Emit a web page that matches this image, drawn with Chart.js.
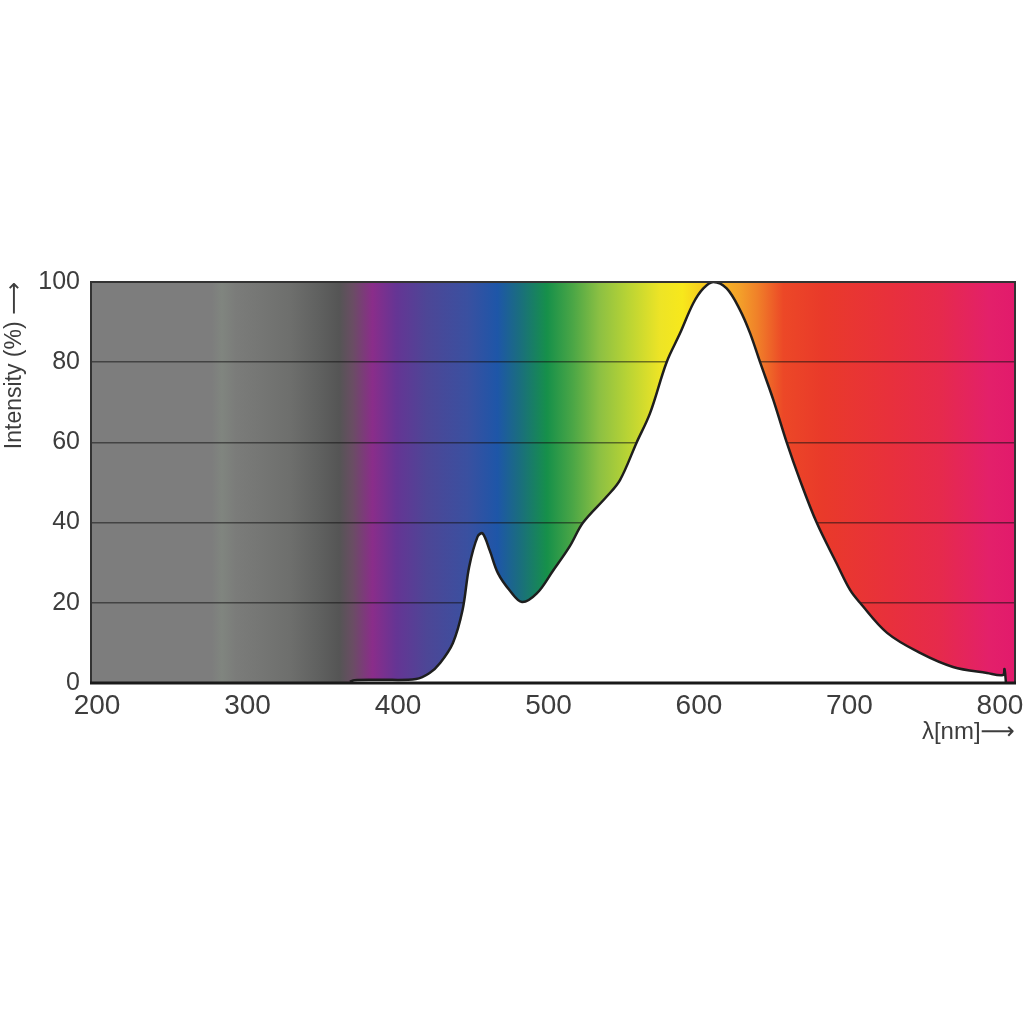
<!DOCTYPE html>
<html>
<head>
<meta charset="utf-8">
<script src="https://cdn.jsdelivr.net/npm/chart.js@4"></script>
<style>
  body { margin: 0; background: #fff; }
  #wrap { width: 1024px; height: 1024px; }
</style>
</head>
<body>
<div id="wrap"><canvas id="spectrumChart"></canvas></div>
<script>
// wavelength (nm) and relative intensity (%)
const wavelengths = [368, 371, 388, 412, 421, 428, 436.5, 442.9, 447.3, 452.9, 456.2, 461, 466.4, 474.4, 482.4,
  492.4, 503, 514, 523, 538.7, 547.5, 558.6, 567.5, 578.5, 587.4, 596.2, 602.9, 609.5,
  618.4, 627.3, 634, 640.6, 649.4, 658.3, 667.1, 678.2, 691.5, 700.4, 707, 725, 746.9, 768.8, 791.4,
  802, 803, 804];
const intensity = [0.3, 0.7, 0.8, 1.0, 2.5, 5, 10, 18.2, 29, 36.5, 37.3, 33, 27.4, 23, 20.2,
  22.4, 28, 34, 40, 46.5, 50.6, 60, 67.3, 80, 87.2, 94.7, 98.4, 100,
  98.4, 93, 87.2, 80, 70.6, 60, 50.6, 40, 29.8, 23.2, 20, 12.5, 7.5, 4, 2.5,
  2, 3.5, 0];

const xTicks = [200, 300, 400, 500, 600, 700, 800];
const yTicks = [0, 20, 40, 60, 80, 100];

// background spectrum colours, by wavelength
const spectrumStops = [
  [196, '#7d7d7d'], [276, '#7d7d7d'], [283, '#80857f'], [292, '#7b7c7a'], [328, '#6e6f6d'],
  [348, '#5f605f'], [361, '#555555'], [370, '#6a4d64'], [383, '#8a2d8a'], [399, '#653594'],
  [419, '#4d4696'], [446, '#3a50a0'], [466, '#1e56a8'], [481, '#1a6e7e'], [499, '#16904a'],
  [516, '#4aa646'], [534, '#8cc043'], [552, '#b7d335'], [574, '#ede426'], [589, '#f7e81c'],
  [604, '#f8c81f'], [627, '#f3a02a'], [639, '#f08029'], [656, '#ec4827'], [682, '#e93a2a'],
  [727, '#e8303c'], [760, '#e62a4c'], [793, '#e3206a'], [810, '#e21a6c']
];

const fontFamily = '"Liberation Sans", Arial, "DejaVu Sans", sans-serif';
const textColor = '#3d3d3d';

const spectrumBackground = {
  id: 'spectrumBackground',
  beforeDraw(chart) {
    const { ctx, chartArea: a, scales: { x } } = chart;
    const g = ctx.createLinearGradient(a.left, 0, a.right, 0);
    spectrumStops.forEach(([nm, c]) => {
      const t = (x.getPixelForValue(nm) - a.left) / (a.right - a.left);
      g.addColorStop(Math.min(1, Math.max(0, t)), c);
    });
    ctx.save();
    ctx.fillStyle = g;
    ctx.fillRect(a.left, a.top, a.right - a.left, a.bottom - a.top);
    ctx.restore();
  }
};

const frame = {
  id: 'frame',
  afterDatasetsDraw(chart) {
    const { ctx, chartArea: a } = chart;
    ctx.save();
    ctx.strokeStyle = '#333';
    ctx.lineWidth = 2;
    ctx.strokeRect(a.left, a.top, a.right - a.left, a.bottom - a.top);
    ctx.strokeStyle = '#1a1a1a';
    ctx.lineWidth = 3;
    ctx.beginPath();
    ctx.moveTo(a.left - 1, a.bottom);
    ctx.lineTo(a.right + 1, a.bottom);
    ctx.stroke();
    ctx.restore();
  }
};

new Chart(document.getElementById('spectrumChart'), {
  type: 'line',
  data: {
    datasets: [{
      data: wavelengths.map((w, i) => ({ x: w, y: intensity[i] })),
      borderColor: '#1e1e1e',
      borderWidth: 2.5,
      backgroundColor: '#ffffff',
      fill: 'origin',
      pointRadius: 0,
      tension: 0.35
    }]
  },
  options: {
    responsive: true,
    maintainAspectRatio: false,
    animation: false,
    layout: { padding: { top: 282, right: 9, bottom: 275, left: 0 } },
    plugins: { legend: { display: false }, tooltip: { enabled: false } },
    scales: {
      x: {
        type: 'linear',
        min: 196,
        max: 810,
        afterBuildTicks: s => { s.ticks = xTicks.map(v => ({ value: v })); },
        afterFit: s => { s.height = 66; s.paddingLeft = 0; s.paddingRight = 0; },
        grid: { display: false, drawTicks: false },
        border: { display: false },
        ticks: { padding: 6, color: textColor, font: { family: fontFamily, size: 28 }, maxRotation: 0 },
        title: {
          display: true,
          text: 'λ[nm]⟶',
          align: 'end',
          color: textColor,
          font: { family: fontFamily, size: 24 },
          padding: { top: 0, bottom: 2 }
        }
      },
      y: {
        min: 0,
        max: 100,
        afterBuildTicks: s => { s.ticks = yTicks.map(v => ({ value: v })); },
        afterFit: s => { s.width = 91; s.paddingTop = 0; s.paddingBottom = 0; },
        grid: { color: 'rgba(20,20,20,0.55)', lineWidth: 1.5, drawTicks: false },
        border: { display: false },
        ticks: { padding: 11, color: textColor, font: { family: fontFamily, size: 25 } },
        title: {
          display: true,
          text: 'Intensity (%) ⟶',
          align: 'end',
          color: textColor,
          font: { family: fontFamily, size: 23 },
          padding: { top: 1, bottom: 0 }
        }
      }
    }
  },
  plugins: [spectrumBackground, frame]
});
</script>
</body>
</html>
